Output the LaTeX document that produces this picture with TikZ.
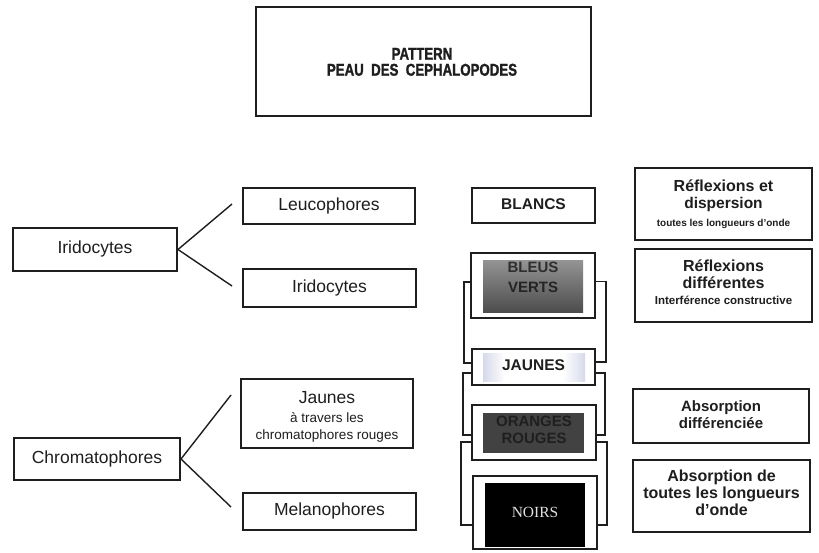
\documentclass[tikz,border=0pt]{standalone}
\usepackage{fontspec}
\usepackage{graphicx}
\setmainfont{Liberation Sans}
\newfontfamily\noirserif{Liberation Serif}
\newfontfamily\heavysans[FakeBold=1.6]{Liberation Sans Bold}
\newcommand\fsz[1]{\fontsize{#1}{#1}\selectfont}
\newcommand\narrowtxt[1]{\scalebox{0.78}[1]{#1}}
\usetikzlibrary{calc}
\definecolor{inkc}{RGB}{30,30,30}
\definecolor{smudge}{RGB}{214,217,234}
\begin{document}
\begin{tikzpicture}[x=1pt,y=-1pt,
  box/.style={draw=inkc, line width=2pt, fill=white, inner sep=0pt},
  lnk/.style={draw=inkc, line width=1.4pt},
  brk/.style={draw=inkc, line width=1.8pt},
  txt/.style={inner sep=0pt, anchor=mid, text=inkc},
  reg/.style={txt, font=\fsz{17.5}},
  small/.style={txt, font=\fsz{13.5}},
  bld/.style={txt, font=\fsz{16}\bfseries},
  ttl/.style={txt, font=\heavysans\fsz{17}},
]
\useasboundingbox (0,0) rectangle (819,552);

% title
\node[box, minimum width=335pt, minimum height=109pt] (title) at (423.5,61.5) {};
\node[ttl] (tt1) at (422,57) {\narrowtxt{PATTERN}};
\node[ttl] (tt2) at (422,73) {\narrowtxt{PEAU\ \ DES\ \ CEPHALOPODES}};

% left column
\node[box, minimum width=164pt, minimum height=43pt] (irL) at (95,249.5) {};
\node[reg] (irLt) at (95,251) {Iridocytes};
\node[box, minimum width=166pt, minimum height=42pt] (chL) at (97,459) {};
\node[reg] (chLt) at (97,461) {Chromatophores};

% second column
\node[box, minimum width=172pt, minimum height=36pt] (leu) at (329,206) {};
\node[reg] (leut) at (329,208) {Leucophores};
\node[box, minimum width=173pt, minimum height=38pt] (ir2) at (329.5,288) {};
\node[reg] (ir2t) at (329.5,290) {Iridocytes};
\node[box, minimum width=172pt, minimum height=69pt] (jau) at (327,413.5) {};
\node[reg] (jaut1) at (327,401) {Jaunes};
\node[small] (jaut2) at (327,420) {à travers les};
\node[small] (jaut3) at (327,437) {chromatophores rouges};
\node[box, minimum width=173pt, minimum height=37pt] (mel) at (329.5,511.5) {};
\node[reg] (melt) at (329.5,513) {Melanophores};

% connectors left
\draw[lnk] (irL.east) -- ([xshift=-10pt,yshift=2pt]leu.west);
\draw[lnk] (irL.east) -- ([xshift=-10pt,yshift=2pt]ir2.west);
\draw[lnk] (chL.east) -- ([xshift=-9pt,yshift=18.5pt]jau.west);
\draw[lnk] (chL.east) -- ([xshift=-11pt,yshift=4.5pt]mel.west);

% middle column boxes
\node[box, minimum width=123pt, minimum height=35pt] (bl) at (533.5,205.5) {};
\node[box, minimum width=124pt, minimum height=65pt] (bv) at (533,285.5) {};
\node[box, minimum width=123pt, minimum height=36pt] (jn) at (533.5,367) {};
\node[box, minimum width=124pt, minimum height=55pt] (or) at (534,432.5) {};
\node[box, minimum width=124pt, minimum height=73pt] (no) at (535,512.5) {};

% brackets
\draw[brk] ([yshift=3.5pt]bv.west) -- ++(-6,0) |- ([yshift=4pt]jn.west);
\draw[brk] ([yshift=4pt]bv.east) -- ++(10,0) |- ([yshift=5pt]jn.east);
\draw[brk] ([yshift=-6pt]jn.west) -- ++(-8,0) |- ([yshift=-2.5pt]or.west);
\draw[brk] ([yshift=-6pt]jn.east) -- ++(9,0) |- ([yshift=-2.5pt]or.east);
\draw[brk] ([yshift=-9.5pt]or.west) -- ++(-10,0) |- ([yshift=-12.5pt]no.west);
\draw[brk] ([yshift=-9.5pt]or.east) -- ++(10,0) |- ([yshift=-12.5pt]no.east);

% inner fills
\shade[top color=black!42, middle color=black!58, bottom color=black!70] (483,260) rectangle (583,312);
\shade[left color=smudge, right color=white] (483,353) rectangle (505,381);
\shade[left color=white, right color=smudge] (563,353) rectangle (585,381);
\fill[black!74] (483,413) rectangle (584,453);
\fill[black] (485,483) rectangle (585,547);

% middle texts
\node[txt, font=\fsz{15.5}\bfseries] (blt) at (533.5,207) {BLANCS};
\node[txt, font=\fsz{15}\bfseries, text=black!82] (bvt1) at (533,270) {BLEUS};
\node[txt, font=\fsz{15}\bfseries, text=black!86] (bvt2) at (533,290) {VERTS};
\node[txt, font=\fsz{15.5}\bfseries] (jnt) at (533.5,368) {JAUNES};
\node[txt, font=\fsz{15}\bfseries, text=black!88] (ort1) at (534,424) {ORANGES};
\node[txt, font=\fsz{15}\bfseries, text=black!88] (ort2) at (534,441) {ROUGES};
\node[txt, font=\noirserif\fsz{15.5}, text=white!88!black] (not) at (535,515) {NOIRS};

% right column
\node[box, minimum width=177pt, minimum height=72pt] (r1) at (723.5,204) {};
\node[bld] (r1a) at (723.5,189) {Réflexions et};
\node[bld, font=\fsz{15.5}\bfseries] (r1b) at (723.5,206) {dispersion};
\node[txt, font=\fsz{10}\bfseries] (r1c) at (723.5,224) {toutes les longueurs d'onde};

\node[box, minimum width=177pt, minimum height=73pt] (r2) at (723.5,285.5) {};
\node[bld] (r2a) at (723.5,269) {Réflexions};
\node[bld] (r2b) at (723.5,286) {différentes};
\node[txt, font=\fsz{11.5}\bfseries] (r2c) at (723.5,302) {Interférence constructive};

\node[box, minimum width=176pt, minimum height=54pt] (r3) at (721,416) {};
\node[bld, font=\fsz{15}\bfseries] (r3a) at (721,409) {Absorption};
\node[bld, font=\fsz{15}\bfseries] (r3b) at (721,426) {différenciée};

\node[box, minimum width=177pt, minimum height=72pt] (r4) at (721.5,496) {};
\node[bld] (r4a) at (721.5,479) {Absorption de};
\node[bld] (r4b) at (721.5,496) {toutes les longueurs};
\node[bld] (r4c) at (721.5,513) {d'onde};
\end{tikzpicture}
\end{document}
